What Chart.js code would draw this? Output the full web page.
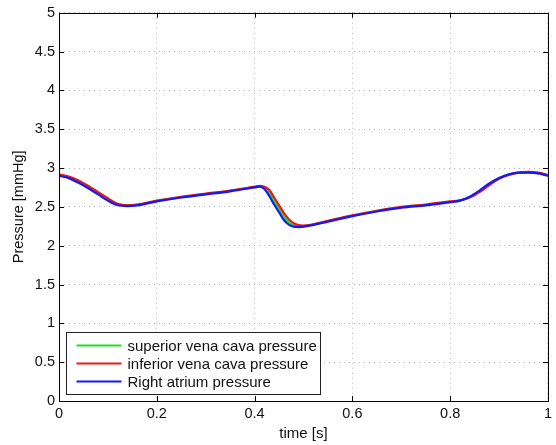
<!DOCTYPE html>
<html>
<head>
<meta charset="utf-8">
<script src="https://cdn.jsdelivr.net/npm/chart.js@4.4.0/dist/chart.umd.min.js"></script>
<style>
  html, body { margin: 0; padding: 0; background: #fff; }
  #wrap { width: 556px; height: 445px; }
</style>
</head>
<body>
<div id="wrap"><canvas id="pressureChart" width="556" height="445"></canvas></div>
<script>
// time axis [s]
const timeS = [0, 0.02, 0.04, 0.06, 0.08, 0.10, 0.12, 0.14, 0.16, 0.2, 0.25, 0.3, 0.35, 0.4,
  0.41, 0.42, 0.43, 0.44, 0.45, 0.46, 0.47, 0.48, 0.49, 0.5, 0.55, 0.6, 0.65, 0.7, 0.75, 0.8,
  0.82, 0.84, 0.86, 0.88, 0.9, 0.92, 0.94, 0.96, 0.98, 1.0];

// pressures [mmHg]
const superiorVenaCava = [2.91, 2.88, 2.825, 2.755, 2.675, 2.595, 2.53, 2.515, 2.525, 2.575, 2.625, 2.665, 2.705, 2.755,
  2.765, 2.745, 2.68, 2.575, 2.475, 2.375, 2.305, 2.265, 2.252, 2.252, 2.315, 2.385, 2.445, 2.495, 2.525, 2.565,
  2.58, 2.625, 2.70, 2.79, 2.865, 2.915, 2.94, 2.945, 2.935, 2.905];
const inferiorVenaCava = [2.92, 2.89, 2.84, 2.77, 2.69, 2.61, 2.54, 2.52, 2.53, 2.58, 2.63, 2.67, 2.71, 2.76,
  2.77, 2.76, 2.72, 2.62, 2.52, 2.42, 2.34, 2.29, 2.265, 2.26, 2.32, 2.39, 2.45, 2.50, 2.53, 2.57,
  2.585, 2.62, 2.69, 2.78, 2.86, 2.91, 2.94, 2.95, 2.94, 2.91];
const rightAtrium = [2.90, 2.87, 2.81, 2.74, 2.66, 2.58, 2.52, 2.51, 2.52, 2.57, 2.62, 2.66, 2.70, 2.75,
  2.76, 2.73, 2.64, 2.53, 2.43, 2.33, 2.27, 2.245, 2.24, 2.245, 2.31, 2.38, 2.44, 2.49, 2.52, 2.56,
  2.58, 2.63, 2.71, 2.80, 2.87, 2.92, 2.94, 2.94, 2.93, 2.90];

const xTickLabels = ['0', '0.2', '0.4', '0.6', '0.8', '1'];
const yTickLabels = ['0', '0.5', '1', '1.5', '2', '2.5', '3', '3.5', '4', '4.5', '5'];
const seriesLabels = ['superior vena cava pressure', 'inferior vena cava pressure', 'Right atrium pressure'];
const seriesColors = ['#1fe01f', '#e81818', '#1515ff'];

const FONT = '"Liberation Sans", Arial, Helvetica, sans-serif';

function toPoints(values) {
  return timeS.map((t, i) => ({ x: t, y: values[i] }));
}

// MATLAB-ish box, inner tick marks and the legend inside the axes
const frameAndLegend = {
  id: 'frameAndLegend',
  afterDatasetsDraw(chart) {
    const ctx = chart.ctx;
    const area = chart.chartArea;
    const xs = chart.scales.x;
    const ys = chart.scales.y;
    ctx.save();
    ctx.setLineDash([]);
    ctx.strokeStyle = '#000';
    ctx.lineWidth = 1;

    // inner ticks
    const tickLen = 5;
    ctx.beginPath();
    xs.ticks.forEach(t => {
      const px = Math.round(xs.getPixelForValue(t.value)) + 0.5;
      ctx.moveTo(px, area.bottom); ctx.lineTo(px, area.bottom - tickLen);
      ctx.moveTo(px, area.top); ctx.lineTo(px, area.top + tickLen);
    });
    ys.ticks.forEach(t => {
      const py = Math.round(ys.getPixelForValue(t.value)) + 0.5;
      ctx.moveTo(area.left, py); ctx.lineTo(area.left + tickLen, py);
      ctx.moveTo(area.right, py); ctx.lineTo(area.right - tickLen, py);
    });
    ctx.stroke();

    ctx.strokeRect(Math.round(area.left) + 0.5, Math.round(area.top) + 0.5,
      Math.round(area.right - area.left), Math.round(area.bottom - area.top));

    // legend
    const boxLeft = Math.round(area.left) + 7.5;
    const boxTop = Math.round(area.bottom) - 68.5;
    const boxW = 254, boxH = 62;
    ctx.fillStyle = '#fff';
    ctx.fillRect(boxLeft, boxTop, boxW, boxH);
    ctx.strokeStyle = '#222';
    ctx.strokeRect(boxLeft, boxTop, boxW, boxH);

    ctx.font = '15px ' + FONT;
    ctx.textBaseline = 'middle';
    ctx.textAlign = 'left';
    chart.data.datasets.forEach((ds, i) => {
      const rowY = boxTop + 13 + i * 18;
      ctx.strokeStyle = ds.borderColor;
      ctx.lineWidth = 2;
      ctx.beginPath();
      ctx.moveTo(boxLeft + 10, rowY);
      ctx.lineTo(boxLeft + 55, rowY);
      ctx.stroke();
      ctx.fillStyle = '#111';
      ctx.fillText(ds.label, boxLeft + 61, rowY + 1);
    });
    ctx.restore();
  }
};

const datasets = [superiorVenaCava, inferiorVenaCava, rightAtrium].map((vals, i) => ({
  label: seriesLabels[i],
  data: toPoints(vals),
  borderColor: seriesColors[i],
  backgroundColor: seriesColors[i],
  borderWidth: 2.2,
  pointRadius: 0,
  cubicInterpolationMode: 'monotone',
  fill: false,
  order: 2 - i
}));

new Chart(document.getElementById('pressureChart'), {
  type: 'line',
  data: { datasets: datasets },
  options: {
    responsive: false,
    animation: false,
    devicePixelRatio: 1,
    layout: { padding: { top: 11, right: 5, left: 0, bottom: 0 } },
    plugins: {
      legend: { display: false },
      tooltip: { enabled: false }
    },
    scales: {
      x: {
        type: 'linear',
        min: 0,
        max: 1,
        afterFit: s => { s.height = 44; },
        ticks: {
          stepSize: 0.2,
          padding: 4,
          color: '#111',
          font: { family: FONT, size: 14.5 },
          maxRotation: 0,
          callback: (v, i) => xTickLabels[i]
        },
        grid: { color: '#b8b8b8', drawTicks: false },
        border: { display: false, dash: [1, 4] },
        title: {
          display: true,
          text: 'time [s]',
          color: '#111',
          font: { family: FONT, size: 15 },
          padding: { top: 0, bottom: 2 }
        }
      },
      y: {
        min: 0,
        max: 5,
        afterFit: s => { s.width = 59; },
        ticks: {
          stepSize: 0.5,
          padding: 4,
          color: '#111',
          font: { family: FONT, size: 14.5 },
          callback: (v, i) => yTickLabels[i]
        },
        grid: { color: '#b8b8b8', drawTicks: false },
        border: { display: false, dash: [1, 4] },
        title: {
          display: true,
          text: 'Pressure [mmHg]',
          color: '#111',
          font: { family: FONT, size: 14.5 },
          padding: { top: 10, bottom: 0 }
        }
      }
    }
  },
  plugins: [frameAndLegend]
});
</script>
</body>
</html>
